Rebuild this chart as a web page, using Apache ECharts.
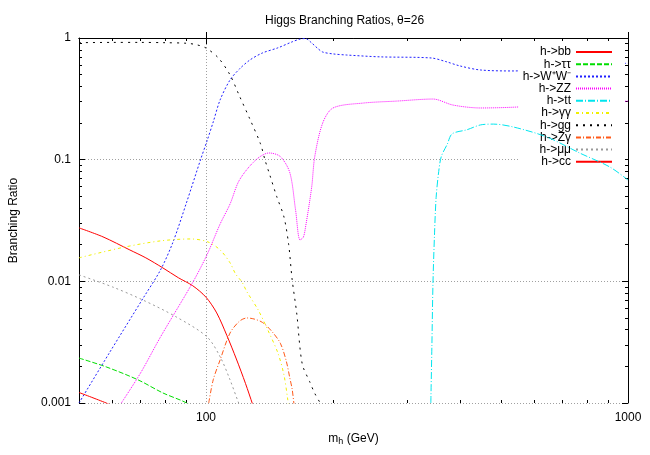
<!DOCTYPE html>
<html>
<head>
<meta charset="utf-8">
<script src="https://cdn.jsdelivr.net/npm/echarts@6/dist/echarts.min.js"></script>
<style>
  html, body { margin: 0; padding: 0; background: #fff; }
  #chart { width: 650px; height: 455px; }
</style>
</head>
<body>
<div id="chart"></div>
<script>
// Higgs mass (GeV) and branching ratio for each channel
const bbMass = [50, 57, 66, 72, 79, 86, 93, 100, 106, 112, 118, 124, 129, 133];
const bbBR = [0.0275, 0.0232, 0.0181, 0.0156, 0.0129, 0.0107, 0.0092, 0.0074, 0.0055, 0.0036, 0.0023, 0.00145, 0.00097, 0.0007];

const tautauMass = [50, 58, 69, 79, 90, 94];
const tautauBR = [0.00234, 0.00198, 0.00155, 0.00121, 0.001, 0.00088];

const wwMass = [50, 59, 71, 78, 83.5, 90, 97, 100.5, 104, 108, 114, 120, 127, 136, 148, 160, 167, 172, 178, 184, 189, 200, 215, 258, 342, 370, 400, 447, 537, 644, 770, 1000];
const wwBR = [0.001, 0.00258, 0.0073, 0.0124, 0.021, 0.0449, 0.0994, 0.142, 0.204, 0.31, 0.452, 0.556, 0.659, 0.753, 0.83, 0.93, 0.98, 0.99, 0.91, 0.82, 0.767, 0.74, 0.725, 0.70, 0.685, 0.64, 0.589, 0.546, 0.536, 0.567, 0.60, 0.62];

const zzMass = [63, 70, 78, 93, 100.5, 108, 114, 120, 131, 141, 150, 158, 163, 167, 170, 172, 178, 181, 189, 200, 236, 283, 345, 385, 447, 537, 644, 1000];
const zzBR = [0.001, 0.00177, 0.00349, 0.0098, 0.0165, 0.0296, 0.0432, 0.068, 0.099, 0.1135, 0.106, 0.078, 0.0386, 0.0219, 0.023, 0.0275, 0.0596, 0.106, 0.2, 0.266, 0.292, 0.303, 0.315, 0.281, 0.266, 0.27, 0.281, 0.303];

const ttMass = [341, 343, 345, 348, 351, 356, 361, 373, 383, 415, 447, 480, 537, 644, 770, 906, 1000];
const ttBR = [0.001, 0.003, 0.0097, 0.025, 0.049, 0.08, 0.106, 0.134, 0.163, 0.176, 0.193, 0.196, 0.185, 0.153, 0.113, 0.087, 0.068];

const gamgamMass = [50, 64, 78, 92, 101, 108, 114, 117.5, 121.6, 125, 133, 140, 148, 153, 156, 158];
const gamgamBR = [0.0156, 0.0191, 0.0215, 0.0223, 0.0211, 0.0181, 0.0142, 0.0115, 0.0099, 0.0082, 0.0058, 0.004, 0.00258, 0.0017, 0.0011, 0.0008];

const ggMass = [50, 60, 70, 80, 90, 95, 100, 107, 114, 120, 127, 134.6, 138, 141.6, 147, 153, 157, 160, 164, 169, 176, 181, 186.5, 190];
const ggBR = [0.915, 0.92, 0.92, 0.915, 0.905, 0.88, 0.827, 0.685, 0.497, 0.334, 0.216, 0.135, 0.099, 0.075, 0.05, 0.0338, 0.02, 0.0103, 0.0055, 0.0021, 0.0015, 0.0012, 0.001, 0.0009];

const zgamMass = [101.5, 104, 108, 114, 120, 125, 130, 136, 143, 150, 155, 158, 160, 161.5, 163];
const zgamBR = [0.001, 0.00155, 0.00226, 0.00376, 0.0047, 0.005, 0.0049, 0.0046, 0.0039, 0.0031, 0.0022, 0.0016, 0.0013, 0.001, 0.0008];

const mumuMass = [50, 60, 71, 85, 100.5, 108, 114, 119.5, 123];
const mumuBR = [0.0113, 0.009, 0.007, 0.0051, 0.0035, 0.0024, 0.00155, 0.001, 0.0008];

const ccMass = [50, 58, 62];
const ccBR = [0.00122, 0.001, 0.0009];

const channelNames = ['h->bb', 'h->ττ', 'h->W⁺W⁻', 'h->ZZ', 'h->tt', 'h->γγ', 'h->gg', 'h->Zγ', 'h->μμ', 'h->cc'];

// axis ticks
const xTickValues = [100, 1000];
const xMinorTicks = [60, 70, 80, 90, 200, 300, 400, 500, 600, 700, 800, 900];
const yTickValues = [0.001, 0.01, 0.1, 1];
const yMinorTicks = [0.002, 0.003, 0.004, 0.005, 0.006, 0.007, 0.008, 0.009,
  0.02, 0.03, 0.04, 0.05, 0.06, 0.07, 0.08, 0.09,
  0.2, 0.3, 0.4, 0.5, 0.6, 0.7, 0.8, 0.9];

const xMin = 50, xMax = 1000, yMin = 0.001, yMax = 1;

const pairs = (xs, ys) => xs.map((x, i) => [x, ys[i]]);

const channels = [
  { data: pairs(bbMass, bbBR), color: '#ff0000', type: 'solid' },
  { data: pairs(tautauMass, tautauBR), color: '#00dd00', type: [5, 2] },
  { data: pairs(wwMass, wwBR), color: '#2020ff', type: [2, 2] },
  { data: pairs(zzMass, zzBR), color: '#ff00ff', type: [1, 1] },
  { data: pairs(ttMass, ttBR), color: '#00e5ee', type: [7, 2, 1, 2], z: 6 },
  { data: pairs(gamgamMass, gamgamBR), color: '#f0f000', type: [3, 3, 1, 3] },
  { data: pairs(ggMass, ggBR), color: '#000000', type: [2, 5] },
  { data: pairs(zgamMass, zgamBR), color: '#ff5a1a', type: [5, 2, 1, 2] },
  { data: pairs(mumuMass, mumuBR), color: '#999999', type: [2, 3] },
  { data: pairs(ccMass, ccBR), color: '#ff0000', type: 'solid' }
];

const font = 'Liberation Sans, Arial, sans-serif';
const log10 = v => Math.log(v) / Math.LN10;

const chart = echarts.init(document.getElementById('chart'), null, { renderer: 'canvas' });

// helper axes in log10 space that only draw the short minor ticks
const minorAxis = (position, ticks, min, max) => ({
  type: 'value',
  position: position,
  min: log10(min),
  max: log10(max),
  axisLine: { show: false },
  axisLabel: { show: false },
  splitLine: { show: false },
  axisTick: {
    show: true,
    inside: true,
    length: 3,
    customValues: ticks.map(log10),
    lineStyle: { color: '#000', width: 1 }
  }
});

const option = {
  animation: false,
  backgroundColor: '#fff',
  textStyle: { fontFamily: font },
  title: {
    text: 'Higgs Branching Ratios, θ=26',
    left: 260,
    top: 10,
    textStyle: { fontSize: 12, fontWeight: 'normal', color: '#000', fontFamily: font }
  },
  legend: {
    orient: 'vertical',
    align: 'right',
    right: 25,
    top: 46,
    padding: [0, 12, 0, 4],
    itemGap: 0.2,
    itemWidth: 36,
    itemHeight: 8,
    backgroundColor: '#fff',
    itemStyle: { opacity: 0 },
    textStyle: { fontSize: 12, color: '#000', fontFamily: font },
    data: channelNames
  },
  grid: { left: 79, right: 22, top: 38, bottom: 52 },
  xAxis: [
    {
      type: 'log',
      logBase: 10,
      min: xMin,
      max: xMax,
      name: '{m|m}{s|h}{m| (GeV)}',
      nameLocation: 'middle',
      nameGap: 28,
      nameTextStyle: {
        rich: {
          m: { fontSize: 12, color: '#000', fontFamily: font },
          s: { fontSize: 9, color: '#000', fontFamily: font, verticalAlign: 'bottom', padding: [6, 0, 0, 0] }
        }
      },
      axisLine: { show: true, lineStyle: { color: '#000', width: 1 } },
      axisTick: { show: true, inside: true, length: 6, customValues: xTickValues, lineStyle: { color: '#000' } },
      axisLabel: {
        show: true, margin: 9, fontSize: 12, color: '#000', fontFamily: font,
        customValues: xTickValues,
        formatter: v => String(Math.round(v))
      },
      splitLine: { show: true, lineStyle: { color: '#a0a0a0', width: 1, type: [1, 2] } }
    },
    {
      type: 'log',
      logBase: 10,
      min: xMin,
      max: xMax,
      position: 'top',
      axisLine: { show: true, lineStyle: { color: '#000', width: 1 } },
      axisTick: { show: true, inside: true, length: 6, customValues: xTickValues, lineStyle: { color: '#000' } },
      axisLabel: { show: false },
      splitLine: { show: false }
    },
    minorAxis('bottom', xMinorTicks, xMin, xMax),
    minorAxis('top', xMinorTicks, xMin, xMax)
  ],
  yAxis: [
    {
      type: 'log',
      logBase: 10,
      min: yMin,
      max: yMax,
      name: 'Branching Ratio',
      nameLocation: 'middle',
      nameGap: 59,
      nameTextStyle: { fontSize: 12, color: '#000', fontFamily: font },
      axisLine: { show: true, lineStyle: { color: '#000', width: 1 } },
      axisTick: { show: true, inside: true, length: 6, customValues: yTickValues, lineStyle: { color: '#000' } },
      axisLabel: {
        show: true, margin: 8, fontSize: 12, color: '#000', fontFamily: font,
        customValues: yTickValues,
        formatter: v => String(+(+v).toPrecision(1))
      },
      splitLine: { show: true, lineStyle: { color: '#a0a0a0', width: 1, type: [1, 2] } }
    },
    {
      type: 'log',
      logBase: 10,
      min: yMin,
      max: yMax,
      position: 'right',
      axisLine: { show: true, lineStyle: { color: '#000', width: 1 } },
      axisTick: { show: true, inside: true, length: 6, customValues: yTickValues, lineStyle: { color: '#000' } },
      axisLabel: { show: false },
      splitLine: { show: false }
    },
    minorAxis('left', yMinorTicks, yMin, yMax),
    minorAxis('right', yMinorTicks, yMin, yMax)
  ],
  series: channels.map((c, i) => ({
    name: channelNames[i],
    type: 'line',
    xAxisIndex: 0,
    yAxisIndex: 0,
    data: c.data,
    symbol: 'none',
    smooth: 0.3,
    clip: true,
    z: c.z || 2,
    lineStyle: { color: c.color, width: 1, type: c.type },
    itemStyle: { color: c.color }
  }))
};

chart.setOption(option);
</script>
</body>
</html>
